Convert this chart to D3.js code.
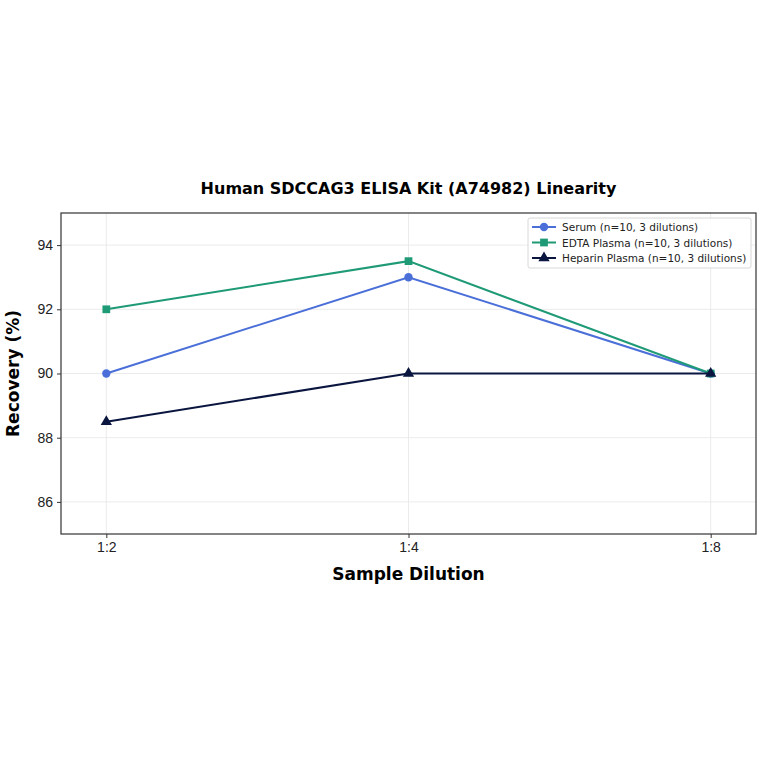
<!DOCTYPE html>
<html>
<head>
<meta charset="utf-8">
<script src="https://cdn.jsdelivr.net/npm/d3@7"></script>
<style>
  body { margin: 0; background: #fff; }
  svg { font-family: "DejaVu Sans", sans-serif; }
</style>
</head>
<body>
<div id="chart"></div>
<script>
// Chart data
const dilutions = ["1:2", "1:4", "1:8"];
const serum = [90, 93, 90];
const edta = [92, 93.5, 90];
const heparin = [88.5, 90, 90];
const yTicks = [86, 88, 90, 92, 94];

const series = [
  { name: "Serum (n=10, 3 dilutions)", values: serum, color: "#4a6fd8", marker: "circle" },
  { name: "EDTA Plasma (n=10, 3 dilutions)", values: edta, color: "#1f9a76", marker: "square" },
  { name: "Heparin Plasma (n=10, 3 dilutions)", values: heparin, color: "#0b1640", marker: "triangle" },
];

// Dimensions
const W = 764, H = 764;
const margin = { top: 213, right: 8, bottom: 230, left: 61 };
const width = W - margin.left - margin.right;
const height = H - margin.top - margin.bottom;

const x = d3.scaleLinear().domain([-0.15, 2.15]).range([0, width]);
const y = d3.scaleLinear().domain([85, 95]).range([height, 0]);

const svg = d3.select("#chart").append("svg")
  .attr("width", W).attr("height", H);

const g = svg.append("g")
  .attr("transform", `translate(${margin.left},${margin.top})`);

// Grid
g.append("g").selectAll("line")
  .data(yTicks).join("line")
  .attr("x1", 0).attr("x2", width)
  .attr("y1", d => y(d)).attr("y2", d => y(d))
  .attr("stroke", "#e6e6e6").attr("stroke-width", 0.8);

g.append("g").selectAll("line")
  .data(dilutions).join("line")
  .attr("x1", (d, i) => x(i)).attr("x2", (d, i) => x(i))
  .attr("y1", 0).attr("y2", height)
  .attr("stroke", "#e6e6e6").attr("stroke-width", 0.8);

// Lines and markers
const line = d3.line()
  .x((d, i) => x(i))
  .y(d => y(d));

const symbolType = { circle: d3.symbolCircle, square: d3.symbolSquare, triangle: d3.symbolTriangle };
const symbolSize = { circle: 55, square: 60, triangle: 55 };

series.forEach(s => {
  g.append("path")
    .datum(s.values)
    .attr("fill", "none")
    .attr("stroke", s.color)
    .attr("stroke-width", 2)
    .attr("d", line);

  g.selectAll(null)
    .data(s.values).join("path")
    .attr("transform", (d, i) => `translate(${x(i)},${y(d)})`)
    .attr("d", d3.symbol().type(symbolType[s.marker]).size(symbolSize[s.marker]))
    .attr("fill", s.color);
});

// Axes
const xAxis = g.append("g")
  .attr("transform", `translate(0,${height})`)
  .call(d3.axisBottom(x).tickValues([0, 1, 2]).tickFormat(i => dilutions[i]).tickSizeOuter(0).tickSize(4).tickPadding(4));
xAxis.select(".domain").remove();
xAxis.selectAll("text").style("font-size", "14px").attr("fill", "#222");
xAxis.selectAll("line").attr("stroke", "#333");

const yAxis = g.append("g")
  .call(d3.axisLeft(y).tickValues(yTicks).tickSizeOuter(0).tickSize(4).tickPadding(4));
yAxis.select(".domain").remove();
yAxis.selectAll("text").style("font-size", "14px").attr("fill", "#222");
yAxis.selectAll("line").attr("stroke", "#333");

// Frame
g.append("rect")
  .attr("width", width).attr("height", height)
  .attr("fill", "none").attr("stroke", "#333").attr("stroke-width", 1.2);

// Axis labels
g.append("text")
  .attr("x", width / 2).attr("y", height + 46)
  .attr("text-anchor", "middle")
  .style("font-size", "17px").style("font-weight", "bold")
  .text("Sample Dilution");

g.append("text")
  .attr("transform", "rotate(-90)")
  .attr("x", -height / 2).attr("y", -42)
  .attr("text-anchor", "middle")
  .style("font-size", "17px").style("font-weight", "bold")
  .text("Recovery (%)");

// Title
svg.append("text")
  .attr("x", margin.left + width / 2).attr("y", 194)
  .attr("text-anchor", "middle")
  .style("font-size", "16px").style("font-weight", "bold")
  .text("Human SDCCAG3 ELISA Kit (A74982) Linearity");

// Legend
const legend = g.append("g").attr("transform", `translate(${width - 228},5)`);
legend.append("rect")
  .attr("width", 223).attr("height", 50).attr("rx", 2)
  .attr("fill", "#fff").attr("fill-opacity", 0.85)
  .attr("stroke", "#d8d8d8");

series.forEach((s, i) => {
  const row = legend.append("g").attr("transform", `translate(4,${9 + i * 15.5})`);
  row.append("line")
    .attr("x1", 0).attr("x2", 24)
    .attr("stroke", s.color).attr("stroke-width", 2);
  row.append("path")
    .attr("transform", "translate(12,0)")
    .attr("d", d3.symbol().type(symbolType[s.marker]).size(symbolSize[s.marker]))
    .attr("fill", s.color);
  row.append("text")
    .attr("x", 30).attr("y", 4)
    .style("font-size", "10.5px").attr("fill", "#222")
    .text(s.name);
});
</script>
</body>
</html>
